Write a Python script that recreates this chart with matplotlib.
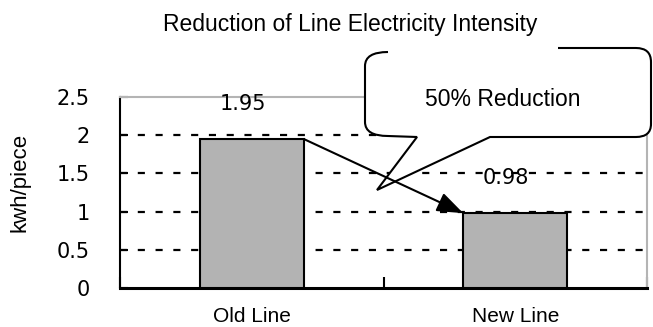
import numpy as np
import matplotlib.pyplot as plt
import matplotlib.transforms as mtransforms
from matplotlib.path import Path
from matplotlib.patches import PathPatch

categories = ["Old Line", "New Line"]
intensity = [1.95, 0.98]
yticks = [0, 0.5, 1, 1.5, 2, 2.5]
ytick_labels = ["0", "0.5", "1", "1.5", "2", "2.5"]
title = "Reduction of Line Electricity Intensity"
callout = "50% Reduction"

W, H = 653, 327
fig = plt.figure(figsize=(W / 100, H / 100), dpi=100)
ax = fig.add_axes([120 / W, 1 - 288 / H, 527 / W, 191 / H])
# pixel coordinates (origin top-left) for the callout shape
pix = mtransforms.Affine2D().scale(1 / W, -1 / H).translate(0, 1) + fig.transFigure

x = np.arange(len(categories))
bar_w = 0.395
ax.bar(x, intensity, width=bar_w, color="#b3b3b3", edgecolor="black",
       linewidth=1.5, zorder=3)
ax.set_xlim(-0.5, 1.5)
ax.set_ylim(0, 2.5)

# dashed gridlines
for yv in yticks[1:-1]:
    ax.axhline(yv, color="black", lw=1.6, linestyle=(0, (3.2, 4.8)), zorder=1)

ax.spines["left"].set_linewidth(1.5)
ax.spines["bottom"].set_linewidth(2.2)
for s in ["top", "right"]:
    ax.spines[s].set_color("#b4b4b4")
    ax.spines[s].set_linewidth(1.5)

ax.set_yticks(yticks, ytick_labels, fontfamily="DejaVu Sans", fontsize=15)
ax.tick_params(axis="y", direction="in", length=6, width=1.5, pad=21.6)
ax.set_xticks(x, categories, fontfamily="Liberation Sans", fontsize=15)
ax.tick_params(axis="x", which="major", length=0, pad=14)
ax.set_xticks([-0.5, 0.5, 1.5], minor=True)
ax.tick_params(axis="x", which="minor", direction="in", length=8, width=1.5)

ax.set_ylabel("kwh/piece", fontfamily="Liberation Sans", fontsize=16)
ax.yaxis.set_label_coords(-0.169, 0.555)

# value labels
for xi, v in zip(x, intensity):
    ax.text(xi - 0.035, v + 0.46, f"{v:.2f}", ha="center", va="center",
            fontfamily="DejaVu Sans", fontsize=15, zorder=6)

# arrow from old bar to new bar
ax.annotate("", xy=(x[1] - bar_w / 2, intensity[1]),
            xytext=(x[0] + bar_w / 2, intensity[0]),
            arrowprops=dict(arrowstyle="-|>,head_length=0.8,head_width=0.3",
                            color="black", lw=1.5, shrinkA=0, shrinkB=0,
                            mutation_scale=20),
            zorder=7, annotation_clip=False)

# speech bubble
verts = [(388, 52), (365, 52), (365, 66), (365, 122), (365, 136), (388, 136),
         (417, 137), (377, 190), (490, 137), (636, 137), (651, 137), (651, 124),
         (651, 62), (651, 48), (636, 48), (558, 48)]
codes = [Path.MOVETO, Path.CURVE3, Path.CURVE3, Path.LINETO, Path.CURVE3, Path.CURVE3,
         Path.LINETO, Path.LINETO, Path.LINETO, Path.LINETO, Path.CURVE3, Path.CURVE3,
         Path.LINETO, Path.CURVE3, Path.CURVE3, Path.LINETO]
bubble = PathPatch(Path(verts, codes), facecolor="white", edgecolor="black",
                   lw=1.5, transform=pix, clip_on=False, zorder=4)
ax.add_artist(bubble)
ax.text(503, 99, callout, transform=pix, ha="center", va="center",
        fontfamily="Liberation Sans", fontsize=16.5, zorder=6)

fig.text(350 / W, 1 - 25 / H, title, ha="center", va="center",
         fontfamily="Liberation Sans", fontsize=16.5)

plt.savefig("out.png", dpi=100)
